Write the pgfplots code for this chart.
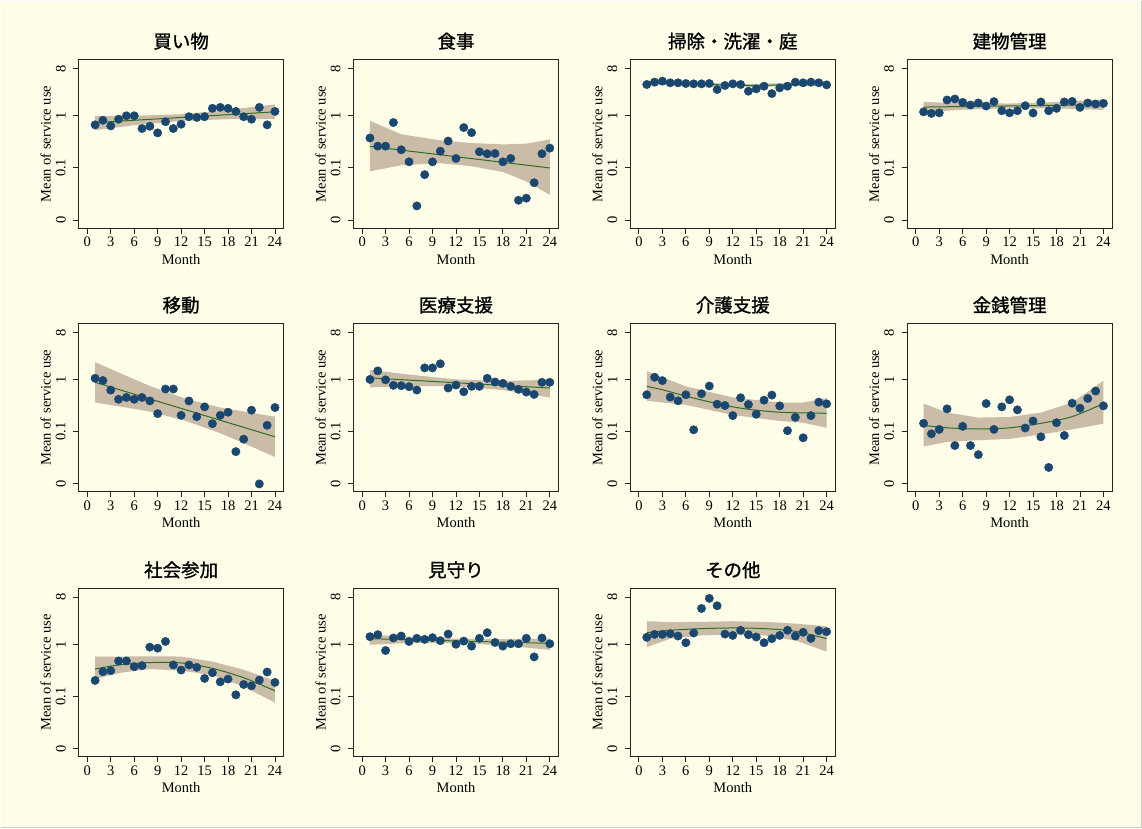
\documentclass[border=0pt]{standalone}
\usepackage{fontspec}
\setmainfont{Liberation Serif}
\newfontfamily\jp[FakeBold=1.2]{Noto Sans CJK JP}
\usepackage{pgfplots}
\pgfplotsset{compat=1.18}

\definecolor{bg}{RGB}{254,253,231}
\definecolor{dotc}{RGB}{26,71,111}
\definecolor{fitc}{RGB}{45,110,35}
\definecolor{cic}{RGB}{203,188,168}
\definecolor{axc}{RGB}{35,35,35}
\definecolor{edge}{RGB}{205,205,200}

\pgfplotsset{
  panel/.style={
    scale only axis, width=205pt, height=168.5pt,
    anchor=north west,
    xmin=-1.1, xmax=25.1,
    ymin=0.00702, ymax=11.9,
    xtick={0,3,...,24},
    ytick={0.01,0.1,1,8}, yticklabels={0,0.1,1,8},
    minor ytick={},
    tick align=outside, major tick length=5.5pt,
    xtick pos=bottom, ytick pos=left,
    axis line style={axc, line width=0.9pt},
    tick style={axc, line width=0.9pt},
    xticklabel style={/pgf/number format/assume math mode=true},
    ticklabel style={font=\fontsize{14.5}{14.5}\selectfont},
    yticklabel style={rotate=90, anchor=south},
    yticklabel shift=4pt,
    label style={font=\fontsize{14.5}{14.5}\selectfont},
    xlabel={Month}, ylabel={Mean of service use},
    xlabel style={at={(axis description cs:0.5,-0.184)}, anchor=center},
    ylabel style={at={(axis description cs:-0.161,0.5)}, anchor=center},
    title style={font=\jp\fontsize{18.5}{18.5}\selectfont, at={(axis description cs:0.5,1)}, anchor=base, yshift=5.5pt},
  },
  cib/.style={fill=cic, draw=none},
  fitl/.style={fitc, line width=1pt, no marks},
  pts/.style={only marks, mark=*, mark size=4.2pt, mark options={fill=dotc, draw=dotc}},
}

\begin{document}
\begin{tikzpicture}
\fill[bg] (0,0) rectangle (1142pt,-828pt);
\draw[edge, line width=1.5pt] (1141.25pt,0) -- (1141.25pt,-827.25pt) -- (0,-827.25pt);
\useasboundingbox (0,0) rectangle (1142pt,-828pt);

% ---------- row 1 ----------
\begin{semilogyaxis}[panel, at={(78pt,-59pt)}, title={買い物}]
\addplot[cib] coordinates {(1,1.0)(6,1.0)(12,1.07)(18,1.30)(24,1.65)
  (24,0.87)(18,0.86)(12,0.80)(6,0.66)(1,0.53)} -- cycle;
\addplot[fitl] coordinates {(1,0.74)(24,1.19)};
\addplot[pts] coordinates {(1,0.67)(2,0.82)(3,0.64)(4,0.86)(5,1.0)(6,1.0)(7,0.57)(8,0.63)
  (9,0.47)(10,0.77)(11,0.57)(12,0.69)(13,0.96)(14,0.93)(15,0.96)(16,1.39)(17,1.45)(18,1.39)
  (19,1.21)(20,0.96)(21,0.86)(22,1.45)(23,0.67)(24,1.21)};
\end{semilogyaxis}

\begin{semilogyaxis}[panel, at={(353pt,-59pt)}, title={食事}]
\addplot[cib] coordinates {(1,0.80)(5,0.442)(10,0.338)(14,0.300)(18,0.283)(21,0.292)(24,0.353)
  (24,0.0305)(21,0.0552)(18,0.0837)(14,0.108)(10,0.123)(5,0.113)(1,0.086)} -- cycle;
\addplot[fitl] coordinates {(1,0.259)(24,0.100)};
\addplot[pts] coordinates {(1,0.375)(2,0.262)(3,0.262)(4,0.743)(5,0.223)(6,0.131)(7,0.0187)
  (8,0.0743)(9,0.131)(10,0.210)(11,0.328)(12,0.152)(13,0.594)(14,0.476)(15,0.204)(16,0.187)
  (17,0.189)(18,0.131)(19,0.152)(20,0.0240)(21,0.0263)(22,0.052)(23,0.187)(24,0.240)};
\end{semilogyaxis}

\begin{semilogyaxis}[panel, at={(630pt,-59pt)}, title={掃除・洗濯・庭}]
\addplot[cib] coordinates {(1,4.76)(8,4.29)(14,4.04)(20,4.29)(24,4.62)
  (24,3.75)(20,3.70)(14,3.59)(8,3.81)(1,3.98)} -- cycle;
\addplot[fitl, smooth] coordinates {(1,4.35)(8,4.04)(14,3.81)(20,3.98)(24,4.16)};
\addplot[pts] coordinates {(1,3.98)(2,4.42)(3,4.62)(4,4.29)(5,4.29)(6,4.16)(7,4.10)(8,4.10)
  (9,4.16)(10,3.19)(11,3.81)(12,4.10)(13,3.98)(14,2.96)(15,3.28)(16,3.70)(17,2.67)(18,3.43)
  (19,3.70)(20,4.42)(21,4.29)(22,4.42)(23,4.29)(24,3.92)};
\end{semilogyaxis}

\begin{semilogyaxis}[panel, at={(907pt,-59pt)}, title={建物管理}]
\addplot[cib] coordinates {(1,1.85)(6,1.73)(12,1.72)(18,1.83)(24,2.06)
  (24,1.30)(18,1.39)(12,1.40)(6,1.31)(1,1.17)} -- cycle;
\addplot[fitl] coordinates {(1,1.47)(24,1.63)};
\addplot[pts] coordinates {(1,1.19)(2,1.11)(3,1.14)(4,2.01)(5,2.10)(6,1.81)(7,1.61)(8,1.76)
  (9,1.54)(10,1.87)(11,1.25)(12,1.14)(13,1.25)(14,1.56)(15,1.13)(16,1.84)(17,1.25)(18,1.39)
  (19,1.84)(20,1.89)(21,1.45)(22,1.76)(23,1.68)(24,1.73)};
\end{semilogyaxis}

% ---------- row 2 ----------
\begin{semilogyaxis}[panel, at={(78pt,-323pt)}, title={移動}]
\addplot[cib] coordinates {(1,2.16)(4,1.37)(8,0.754)(12.5,0.435)(17,0.292)(21,0.230)(24,0.195)
  (24,0.0328)(21,0.052)(17,0.0942)(12.5,0.163)(8,0.244)(4,0.309)(1,0.364)} -- cycle;
\addplot[fitl] coordinates {(1,0.887)(24,0.080)};
\addplot[pts] coordinates {(1,1.06)(2,0.96)(3,0.63)(4,0.42)(5,0.455)(6,0.42)(7,0.455)(8,0.39)
  (9,0.223)(10,0.66)(11,0.66)(12,0.207)(13,0.39)(14,0.195)(15,0.30)(16,0.143)(17,0.207)
  (18,0.237)(19,0.0416)(20,0.0721)(21,0.259)(22,0.01)(23,0.133)(24,0.292)};
\end{semilogyaxis}

\begin{semilogyaxis}[panel, at={(353pt,-323pt)}, title={医療支援}]
\addplot[cib] coordinates {(1,1.54)(6,1.25)(12,1.01)(18,0.942)(24,0.99)
  (24,0.455)(18,0.631)(12,0.743)(6,0.754)(1,0.71)} -- cycle;
\addplot[fitl] coordinates {(1,1.08)(24,0.69)};
\addplot[pts] coordinates {(1,1.01)(2,1.47)(3,0.99)(4,0.777)(5,0.765)(6,0.732)(7,0.631)(8,1.68)
  (9,1.68)(10,2.01)(11,0.690)(12,0.788)(13,0.586)(14,0.743)(15,0.743)(16,1.06)(17,0.901)
  (18,0.849)(19,0.743)(20,0.650)(21,0.577)(22,0.520)(23,0.888)(24,0.888)};
\end{semilogyaxis}

\begin{semilogyaxis}[panel, at={(630pt,-323pt)}, title={介護支援}]
\addplot[cib] coordinates {(1,1.45)(6,0.743)(12,0.455)(18,0.364)(21,0.364)(24,0.442)
  (24,0.119)(21,0.149)(18,0.161)(12,0.210)(6,0.328)(1,0.392)} -- cycle;
\addplot[fitl, smooth] coordinates {(1,0.743)(3,0.640)(6,0.483)(9,0.375)(12,0.300)(15,0.259)
  (18,0.237)(21,0.230)(24,0.226)};
\addplot[pts] coordinates {(1,0.512)(2,1.11)(3,0.956)(4,0.462)(5,0.392)(6,0.512)(7,0.109)
  (8,0.536)(9,0.754)(10,0.338)(11,0.319)(12,0.204)(13,0.449)(14,0.333)(15,0.217)(16,0.404)
  (17,0.505)(18,0.314)(19,0.105)(20,0.189)(21,0.0766)(22,0.204)(23,0.370)(24,0.343)};
\end{semilogyaxis}

\begin{semilogyaxis}[panel, at={(907pt,-323pt)}, title={金銭管理}]
\addplot[cib] coordinates {(1,0.348)(4,0.233)(8,0.187)(12,0.192)(16,0.233)(20,0.364)(24,0.956)
  (24,0.143)(20,0.111)(16,0.0888)(12,0.073)(8,0.069)(4,0.064)(1,0.052)} -- cycle;
\addplot[fitl, smooth] coordinates {(1,0.133)(4,0.119)(8,0.113)(12,0.119)(16,0.145)(20,0.195)(24,0.348)};
\addplot[pts] coordinates {(1,0.145)(2,0.0914)(3,0.111)(4,0.275)(5,0.0544)(6,0.127)(7,0.0544)
  (8,0.0364)(9,0.348)(10,0.111)(11,0.300)(12,0.410)(13,0.263)(14,0.118)(15,0.161)(16,0.080)
  (17,0.0207)(18,0.149)(19,0.0849)(20,0.353)(21,0.283)(22,0.435)(23,0.604)(24,0.314)};
\end{semilogyaxis}

% ---------- row 3 ----------
\begin{semilogyaxis}[panel, at={(78pt,-588pt)}, title={社会参加}]
\addplot[cib] coordinates {(1,0.586)(4,0.586)(8,0.594)(12,0.586)(16,0.469)(20,0.328)(24,0.201)
  (24,0.0766)(20,0.156)(16,0.259)(12,0.314)(8,0.338)(4,0.283)(1,0.217)} -- cycle;
\addplot[fitl, smooth] coordinates {(1,0.338)(4,0.404)(8,0.449)(12,0.442)(16,0.348)(20,0.230)(24,0.129)};
\addplot[pts] coordinates {(1,0.204)(2,0.300)(3,0.314)(4,0.483)(5,0.483)(6,0.375)(7,0.392)
  (8,0.888)(9,0.849)(10,1.14)(11,0.404)(12,0.323)(13,0.404)(14,0.364)(15,0.223)(16,0.287)
  (17,0.192)(18,0.217)(19,0.108)(20,0.171)(21,0.161)(22,0.207)(23,0.296)(24,0.187)};
\end{semilogyaxis}

\begin{semilogyaxis}[panel, at={(353pt,-588pt)}, title={見守り}]
\addplot[cib] coordinates {(1,1.54)(6,1.41)(12,1.29)(18,1.27)(24,1.29)
  (24,0.788)(18,0.962)(12,1.06)(6,1.07)(1,0.985)} -- cycle;
\addplot[fitl] coordinates {(1,1.29)(24,1.05)};
\addplot[pts] coordinates {(1,1.41)(2,1.54)(3,0.765)(4,1.33)(5,1.45)(6,1.14)(7,1.31)(8,1.25)
  (9,1.35)(10,1.18)(11,1.58)(12,1.01)(13,1.16)(14,0.929)(15,1.31)(16,1.68)(17,1.09)(18,0.929)
  (19,1.03)(20,1.03)(21,1.31)(22,0.577)(23,1.33)(24,1.03)};
\end{semilogyaxis}

\begin{semilogyaxis}[panel, at={(630pt,-588pt)}, title={その他}]
\addplot[cib] coordinates {(1,2.79)(4,2.68)(8,2.71)(12,2.79)(16,2.71)(20,2.51)(24,2.23)
  (24,0.732)(20,1.19)(16,1.49)(12,1.54)(8,1.49)(4,1.29)(1,0.888)} -- cycle;
\addplot[fitl, smooth] coordinates {(1,1.68)(4,1.87)(8,2.01)(12,2.07)(16,2.01)(20,1.79)(24,1.29)};
\addplot[pts] coordinates {(1,1.37)(2,1.56)(3,1.56)(4,1.61)(5,1.45)(6,1.08)(7,1.66)(8,4.90)
  (9,7.65)(10,5.52)(11,1.58)(12,1.49)(13,1.87)(14,1.54)(15,1.39)(16,1.08)(17,1.29)(18,1.49)
  (19,1.87)(20,1.45)(21,1.71)(22,1.31)(23,1.84)(24,1.76)};
\end{semilogyaxis}

\end{tikzpicture}
\end{document}
